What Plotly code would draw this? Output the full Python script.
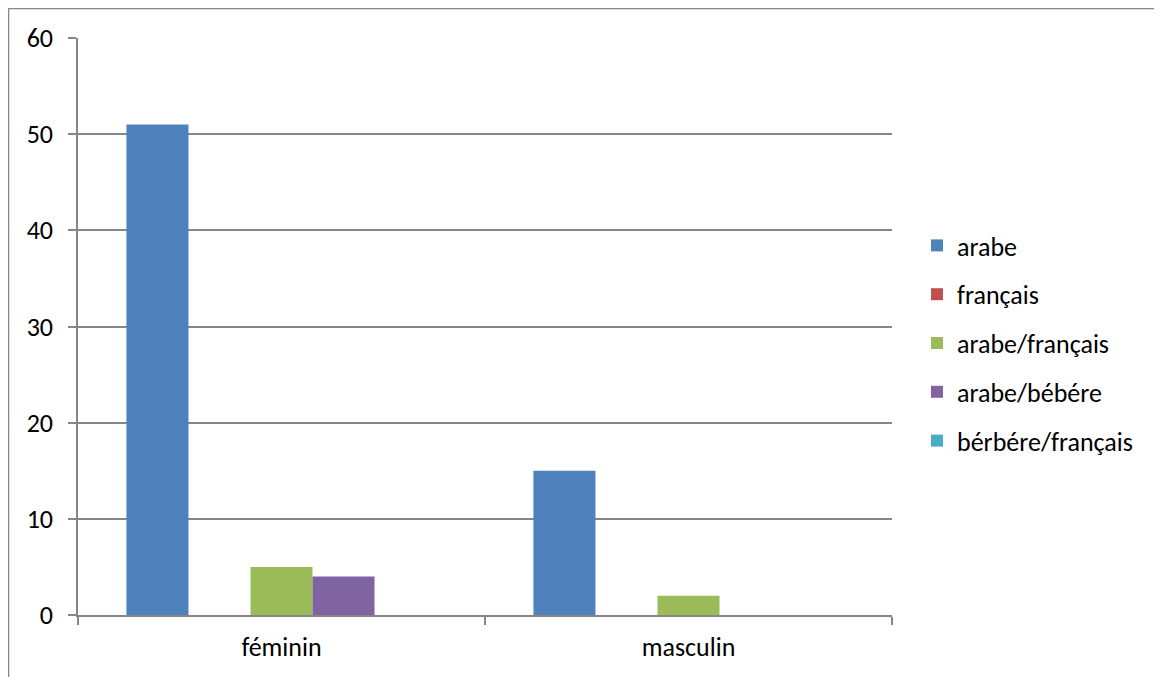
import plotly.graph_objects as go

categories = ["féminin", "masculin"]
series_names = ["arabe", "français", "arabe/français", "arabe/bébére", "bérbére/français"]
arabe = [51, 15]
francais = [0, 0]
arabe_francais = [5, 2]
arabe_bebere = [4, 0]
berbere_francais = [0, 0]
values = [arabe, francais, arabe_francais, arabe_bebere, berbere_francais]
colors = ["#4F81BD", "#C0504D", "#9BBB59", "#8064A2", "#4BACC6"]
y_ticks = [0, 10, 20, 30, 40, 50, 60]

FONT = "Carlito, Lato, sans-serif"
FS = 26

fig = go.Figure()
for i, (name, vals) in enumerate(zip(series_names, values)):
    fig.add_trace(go.Bar(
        x=categories, y=vals, name=name,
        marker=dict(color=colors[i], line=dict(width=0)),
        legendgroup=f"g{i}",
    ))

# page has an 8px body margin; coordinates below are figure coordinates
L, R, T, B = 70, 278, 30, 70
W, H = 1162, 677
pw = W - L - R
ph = H - T - B

fig.update_layout(
    width=W, height=H,
    margin=dict(l=L, r=R, t=T, b=B, autoexpand=False),
    paper_bgcolor="white", plot_bgcolor="white",
    barmode="group", bargap=0.238, bargroupgap=0,
    font=dict(family=FONT, size=FS, color="#000000"),
    showlegend=True,
    legend=dict(
        x=(909 - L) / pw, xanchor="left",
        y=(H - B - 214) / ph, yanchor="top",
        font=dict(family=FONT, size=FS, color="#000000"),
        tracegroupgap=12, itemwidth=30,
        bgcolor="rgba(0,0,0,0)",
    ),
    xaxis=dict(
        type="category", automargin=False,
        showline=True, linecolor="#868686", linewidth=1.5,
        ticks="outside", tickson="boundaries", ticklen=8, tickcolor="#868686", tickwidth=1.5,
        showgrid=False, zeroline=False,
        tickfont=dict(family=FONT, size=FS, color="#000000"),
        ticklabelstandoff=8,
    ),
    yaxis=dict(
        range=[0, 60], tickvals=y_ticks, automargin=False,
        showline=True, linecolor="#868686", linewidth=1.5,
        ticks="outside", ticklen=8, tickcolor="#868686", tickwidth=1.5,
        showgrid=True, gridcolor="#868686", gridwidth=1.5,
        zeroline=False,
        tickfont=dict(family=FONT, size=FS, color="#000000"),
        ticklabelstandoff=10,
    ),
    shapes=[
        dict(type="rect", xref="paper", yref="paper",
             x0=(-L + 0.5) / pw, x1=(W - L - 0.5) / pw,
             y0=(-B + 0.5) / ph, y1=(H - B - 0.5) / ph,
             line=dict(color="#868686", width=1.5), fillcolor="rgba(0,0,0,0)", layer="below"),
    ],
)

fig.write_html("out.html")
